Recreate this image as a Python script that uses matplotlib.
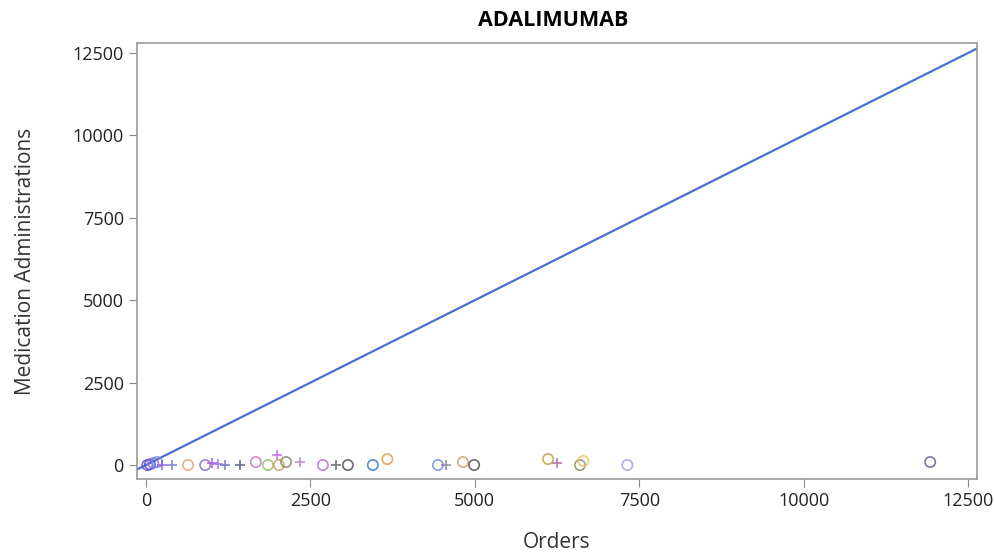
import matplotlib.pyplot as plt

plt.rcParams['font.family'] = ['Open Sans', 'DejaVu Sans']

# per-product points (orders vs medication administrations)
orders = [20, 60, 110, 170, 250, 400, 640, 900, 1000, 1100, 1200, 1430,
          1670, 1855, 1990, 2020, 2130, 2340, 2690, 2890, 3070, 3450,
          3670, 4440, 4560, 4820, 4990, 6115, 6250, 6600, 6650, 7320, 11925]
admins = [0, 20, 60, 90, 0, 0, 0, 0, 60, 30, 0, 0,
          90, 0, 300, 0, 90, 90, 0, 0, 0, 0,
          180, 0, 0, 90, 0, 180, 60, 0, 120, 0, 90]
markers = ['o', 'o', 'o', 'o', '+', '+', 'o', 'o', '+', '+', '+', '+',
           'o', 'o', '+', 'o', 'o', '+', 'o', '+', 'o', 'o',
           'o', 'o', '+', 'o', 'o', 'o', '+', 'o', 'o', 'o', 'o']
colors = ['#7b3fd6', '#4a55c8', '#9a6ae0', '#6f8fe0', '#8a5ad8', '#6a7ad8',
          '#e0a070', '#8070d0', '#a050e0', '#9a6ae0', '#6a6ad0', '#505080',
          '#d070c0', '#90c060', '#c060e0', '#d0a060', '#908070', '#b080d0',
          '#b070d0', '#606070', '#505050', '#3a7ad0', '#e0a040', '#6a8ad0',
          '#8080a0', '#d0a060', '#505050', '#c0a040', '#b060a0', '#909060',
          '#f0c060', '#a0a0e0', '#606090']

line_x = [-140, 12650]

fig = plt.figure(figsize=(9.94, 5.60), dpi=100)
ax = fig.add_axes([0.1378, 0.1446, 0.8451, 0.7786])

ax.plot(line_x, line_x, color='#4B6ED0', linewidth=1.6, zorder=2)
for x, y, m, c in zip(orders, admins, markers, colors):
    if m == 'o':
        ax.scatter(x, y, s=55, facecolors='none', edgecolors=c,
                   linewidths=1.2, alpha=0.85, zorder=3)
    else:
        ax.scatter(x, y, s=60, marker='+', color=c, linewidths=1.2,
                   alpha=0.85, zorder=3)

ax.set_xlim(-137, 12637)
ax.set_ylim(-425, 12803)
ticks = [0, 2500, 5000, 7500, 10000, 12500]
ax.set_xticks(ticks)
ax.set_yticks(ticks)
ax.tick_params(labelsize=13, color='#8a8a8a', length=6, labelcolor='#222222')
for s in ax.spines.values():
    s.set_color('#9a9a9a')
    s.set_linewidth(1.2)

ax.set_xlabel('Orders', fontsize=15, color='#333333', labelpad=16)
ax.set_ylabel('Medication Administrations', fontsize=15, color='#333333',
              labelpad=26)
fig.suptitle('ADALIMUMAB', fontsize=15.5, fontweight='bold', y=0.982,
             x=0.557)

fig.savefig('out.png', dpi=100)
